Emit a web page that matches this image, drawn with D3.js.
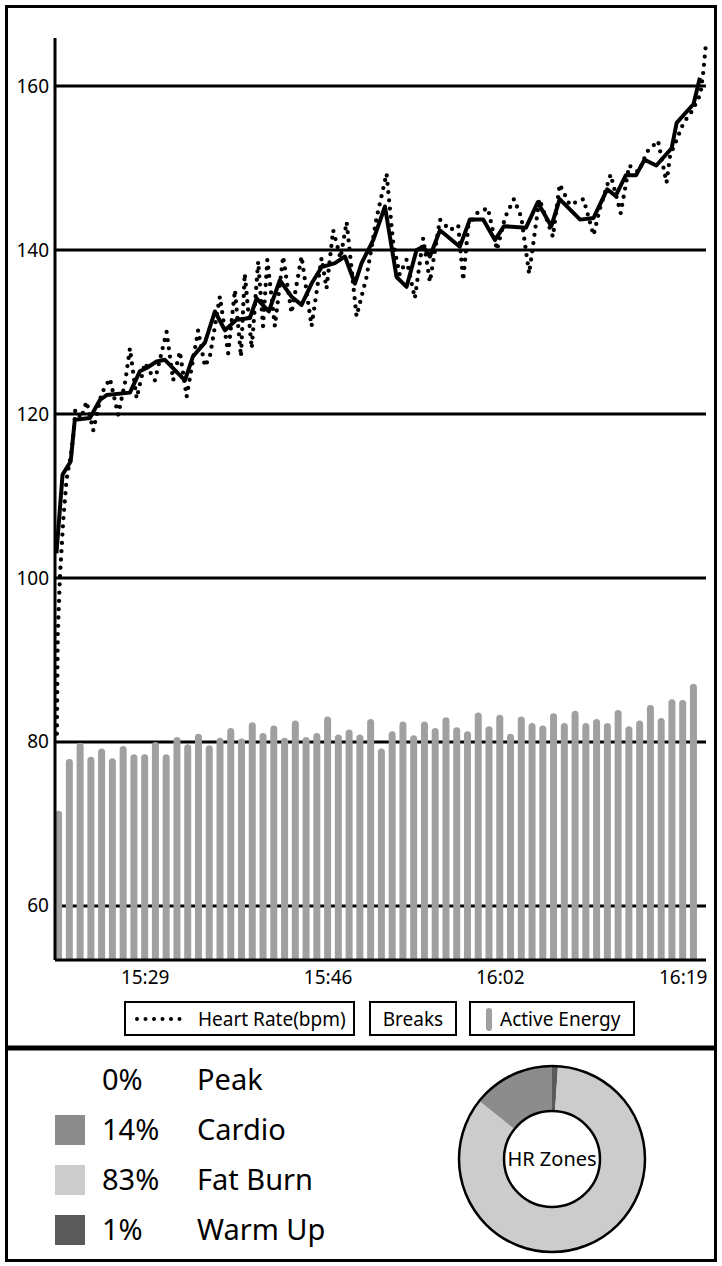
<!DOCTYPE html>
<html>
<head>
<meta charset="utf-8">
<script src="https://cdn.jsdelivr.net/npm/d3@7"></script>
<style>
  html, body { margin: 0; padding: 0; background: #fff; }
  svg text { font-family: "Noto Sans", "Open Sans", sans-serif; fill: #000; }
</style>
</head>
<body>
<div id="chart"></div>
<script>
// ---- data ----

// one Active Energy bar per minute, from 15:21 (read against the left axis)
const barStart = "15:21:00";
const energy = [71.6, 77.9, 79.9, 78.2, 79.2, 78.0, 79.5, 78.5, 78.5, 80.0,
                78.5, 80.6, 79.7, 81.0, 79.6, 80.5, 81.7, 80.4, 82.4, 81.1,
                82.0, 80.5, 82.6, 80.6, 81.1, 83.1, 80.9, 81.5, 80.9, 82.8,
                79.2, 81.3, 82.5, 80.8, 82.5, 81.7, 83.0, 81.8, 81.3, 83.6,
                81.9, 83.3, 81.0, 83.1, 82.3, 82.0, 83.5, 82.3, 83.8, 82.3,
                82.8, 82.3, 83.9, 81.9, 82.6, 84.5, 82.9, 85.2, 85.1, 87.1];

// raw heart rate (dotted), minutes after 15:21
const hrRawMin = [-0.16, -0.08, 0.12, 0.43, 0.74, 1.21, 1.45, 1.55, 2.1, 2.6,
                  3.22, 4.0, 4.77, 5.54, 6.2, 6.63, 7.25, 8.02, 8.95, 10.04,
                  10.65, 11.27, 11.9, 12.97, 13.6, 14.06, 14.99, 15.76, 16.39, 16.95,
                  17.3, 17.95, 18.55, 19.0, 19.4, 20.1, 20.87, 21.65, 22.58, 23.51,
                  24.44, 24.9, 25.52, 26.2, 26.77, 27.69, 28.62, 29.55, 30.48, 31.1,
                  31.7, 32.34, 33.11, 33.88, 34.51, 35.44, 36.37, 37.14, 37.6, 38.07,
                  38.9, 39.9, 40.74, 41.5, 42.32, 43.0, 43.73, 44.68, 45.94, 46.57,
                  47.5, 48.78, 49.72, 50.3, 51.3, 52.24, 53.03, 53.9, 54.7, 55.71,
                  56.5, 56.83, 58.08, 58.9, 59.65, 59.9, 60.15];
const hrRaw = [81, 93, 100, 107, 112, 115.5, 118.5, 120.5, 119.5, 121.5,
               118, 122.5, 124.3, 119.9, 124, 128, 121.9, 126.2, 124.1, 130,
               124.1, 127.6, 122.1, 130.2, 125.8, 127, 134.3, 127.4, 135.1, 127,
               137.1, 128, 138.6, 130.7, 138.8, 130.7, 139.2, 132.3, 139.2, 130.7,
               139, 135.3, 142.4, 139, 143.4, 131.9, 136.7, 143.9, 149.3, 140.8,
               137, 138.8, 134.1, 141.4, 136.1, 143.7, 142.4, 143, 136.3, 142.9,
               144.5, 145.1, 140, 144, 146.2, 144, 137.1, 146.2, 141.6, 148,
               145.5, 146.2, 141.8, 145, 149.2, 144.5, 150.3, 149.5, 152, 153.3,
               148.2, 151.5, 155.5, 157, 159, 161.5, 165];

// averaged heart rate (solid), minutes after 15:21
const hrAvgMin = [-0.2, 0.37, 1.12, 1.51, 2.91, 3.84, 4.46, 6.63, 7.55, 8.18,
                  9.11, 9.88, 11.74, 12.48, 13.6, 14.53, 15.46, 16.54, 17.78, 18.4,
                  19.54, 20.56, 21.65, 22.58, 23.51, 24.44, 25.68, 26.61, 27.54, 28.16,
                  29.24, 30.33, 31.41, 32.34, 33.27, 33.88, 34.51, 35.44, 36.37, 37.29,
                  38.22, 39.46, 40.55, 41.39, 43.43, 44.53, 45.79, 46.57, 48.47, 49.72,
                  50.98, 51.77, 52.71, 53.66, 54.45, 55.55, 56.97, 57.44, 59.01, 59.6];
const hrAvg = [103, 112.6, 114.2, 119.3, 119.5, 121.7, 122.3, 122.6, 125.2, 125.6,
               126.4, 126.6, 124.1, 127, 128.7, 132.5, 130.2, 131.5, 131.7, 134.1,
               132.5, 136.3, 134.3, 133.3, 135.9, 137.9, 138.4, 139.2, 135.9, 138.4,
               141.2, 145.3, 136.7, 135.5, 140, 140.4, 139.2, 142.4, 141.4, 140.4,
               143.7, 143.7, 141.2, 142.9, 142.7, 145.8, 142.9, 146.2, 143.7, 143.9,
               147.4, 146.6, 149.1, 149.1, 151, 150.3, 152.4, 155.5, 157.8, 161];

const timeDomain = ["15:20:40", "16:21:10"];
const hrDomain = [53.4, 165.85];
const yTicks = [60, 80, 100, 120, 140, 160];
const xTicks = ["15:29", "15:46", "16:02", "16:19"];
const legendLabels = ["Heart Rate(bpm)", "Breaks", "Active Energy"];

// HR zones, legend order (top to bottom)
const zoneNames = ["Peak", "Cardio", "Fat Burn", "Warm Up"];
const zonePct = [0, 14, 83, 1];
const zoneColors = ["#ffffff", "#8c8c8c", "#cccccc", "#5a5a5a"];

// ---- layout ----
const W = 722, H = 1266;
const margin = { top: 38, right: 16, bottom: 306, left: 55 };
const width = W - margin.left - margin.right;
const height = H - margin.top - margin.bottom;

const svg = d3.select("#chart")
  .append("svg")
    .attr("width", W)
    .attr("height", H);

// outer frame and divider
svg.append("rect")
  .attr("x", 6.5).attr("y", 6.5)
  .attr("width", 709).attr("height", 1254)
  .attr("fill", "none").attr("stroke", "#000").attr("stroke-width", 3);

svg.append("line")
  .attr("x1", 5).attr("x2", 717)
  .attr("y1", 1048).attr("y2", 1048)
  .attr("stroke", "#000").attr("stroke-width", 5);

const g = svg.append("g")
  .attr("transform", `translate(${margin.left},${margin.top})`);

const parseHMS = d3.timeParse("%H:%M:%S");
const parseHM = d3.timeParse("%H:%M");
const t0 = parseHMS(barStart);
const atMin = m => new Date(t0.getTime() + m * 60000);

const x = d3.scaleTime()
  .domain(timeDomain.map(parseHMS))
  .range([0, width]);

const y = d3.scaleLinear()
  .domain(hrDomain)
  .range([height, 0]);

// horizontal gridlines
g.selectAll(".grid")
  .data(yTicks)
  .join("line")
  .attr("class", "grid")
  .attr("x1", 0).attr("x2", width)
  .attr("y1", d => y(d)).attr("y2", d => y(d))
  .attr("stroke", "#000").attr("stroke-width", 3);

// active energy bars, rounded on top
const barW = 7;
function barPath(cx, top) {
  const r = barW / 2, x0 = cx - r;
  return `M${x0},${height} V${top + r} A${r},${r} 0 0 1 ${x0 + barW},${top + r} V${height} Z`;
}
g.selectAll(".bar")
  .data(energy)
  .join("path")
  .attr("class", "bar")
  .attr("fill", "#a0a0a0")
  .attr("d", (d, i) => barPath(x(atMin(i)), y(d)));

const avgData = hrAvgMin.map((m, i) => ({ t: atMin(m), v: hrAvg[i] }));
const rawData = hrRawMin.map((m, i) => ({ t: atMin(m), v: hrRaw[i] }));

const line = d3.line()
  .x(d => x(d.t))
  .y(d => y(d.v));

// averaged HR (solid)
g.append("path")
  .datum(avgData)
  .attr("fill", "none")
  .attr("stroke", "#000")
  .attr("stroke-width", 4)
  .attr("stroke-linejoin", "round")
  .attr("d", line);

// raw HR (dotted)
g.append("path")
  .datum(rawData)
  .attr("fill", "none")
  .attr("stroke", "#000")
  .attr("stroke-width", 4.3)
  .attr("stroke-linecap", "round")
  .attr("stroke-dasharray", "0,8.3")
  .attr("d", line);

// axis lines
g.append("line")
  .attr("x1", 0).attr("x2", 0)
  .attr("y1", 0).attr("y2", height)
  .attr("stroke", "#000").attr("stroke-width", 3);
g.append("line")
  .attr("x1", 0).attr("x2", width)
  .attr("y1", height).attr("y2", height)
  .attr("stroke", "#000").attr("stroke-width", 3);

// axis labels
const yAxis = g.append("g")
  .call(d3.axisLeft(y).tickValues(yTicks).tickSize(0).tickPadding(6));
yAxis.select(".domain").remove();
yAxis.selectAll("text").style("font-size", "19px").attr("font-family", null);

const xAxis = g.append("g")
  .attr("transform", `translate(0,${height})`)
  .call(d3.axisBottom(x)
    .tickValues(xTicks.map(parseHM).map(d => {
      const t = new Date(t0); t.setHours(d.getHours(), d.getMinutes(), 0); return t;
    }))
    .tickFormat(d3.timeFormat("%H:%M"))
    .tickSize(0).tickPadding(10.5));
xAxis.select(".domain").remove();
xAxis.selectAll("text").style("font-size", "19px").attr("font-family", null);

// ---- legend boxes ----
const boxes = [
  { x: 125, w: 229 },
  { x: 370, w: 86 },
  { x: 470, w: 164 }
];
const legY = 1002, legH = 33;
const leg = svg.append("g");
leg.selectAll("rect.box")
  .data(boxes)
  .join("rect")
  .attr("class", "box")
  .attr("x", d => d.x).attr("y", legY)
  .attr("width", d => d.w).attr("height", legH)
  .attr("fill", "#fff").attr("stroke", "#000").attr("stroke-width", 2);

leg.append("line")
  .attr("x1", 137).attr("x2", 180)
  .attr("y1", legY + 17).attr("y2", legY + 17)
  .attr("stroke", "#000").attr("stroke-width", 4)
  .attr("stroke-linecap", "round").attr("stroke-dasharray", "0,8.5");

leg.append("rect")
  .attr("x", 486).attr("y", legY + 6)
  .attr("width", 6).attr("height", 23).attr("rx", 3)
  .attr("fill", "#a0a0a0");

const legTextX = [198, 413, 500];
leg.selectAll("text")
  .data(legendLabels)
  .join("text")
  .attr("x", (d, i) => legTextX[i])
  .attr("y", legY + 24)
  .attr("text-anchor", (d, i) => i === 1 ? "middle" : "start")
  .style("font-size", "19px")
  .text(d => d);

// ---- HR zones panel ----
const zones = zoneNames.map((n, i) => ({ name: n, pct: zonePct[i], color: zoneColors[i] }));
const rowY = d3.scalePoint().domain(zoneNames).range([1080, 1230]);

const zg = svg.append("g");
zg.selectAll("rect")
  .data(zones.filter(d => d.pct > 0))
  .join("rect")
  .attr("x", 55).attr("y", d => rowY(d.name) - 15)
  .attr("width", 30).attr("height", 30)
  .attr("fill", d => d.color);

zg.selectAll("text.pct")
  .data(zones)
  .join("text")
  .attr("class", "pct")
  .attr("x", 102).attr("y", d => rowY(d.name))
  .attr("dy", "0.36em")
  .style("font-size", "29px")
  .text(d => d.pct + "%");

zg.selectAll("text.name")
  .data(zones)
  .join("text")
  .attr("class", "name")
  .attr("x", 197).attr("y", d => rowY(d.name))
  .attr("dy", "0.36em")
  .style("font-size", "29px")
  .text(d => d.name);

// donut: clockwise from top, reverse of legend order
const cx = 552, cy = 1159, rOut = 93, rIn = 48;
const pie = d3.pie().sort(null).value(d => d.pct);
const arc = d3.arc().innerRadius(rIn).outerRadius(rOut);
const donut = svg.append("g").attr("transform", `translate(${cx},${cy})`);
donut.selectAll("path")
  .data(pie(zones.slice().reverse()))
  .join("path")
  .attr("d", arc)
  .attr("fill", d => d.data.color);
donut.selectAll("circle")
  .data([rOut, rIn])
  .join("circle")
  .attr("r", d => d)
  .attr("fill", "none")
  .attr("stroke", "#000")
  .attr("stroke-width", 2.5);
donut.append("text")
  .attr("text-anchor", "middle")
  .attr("dy", "0.36em")
  .style("font-size", "20px")
  .text("HR Zones");
</script>
</body>
</html>
